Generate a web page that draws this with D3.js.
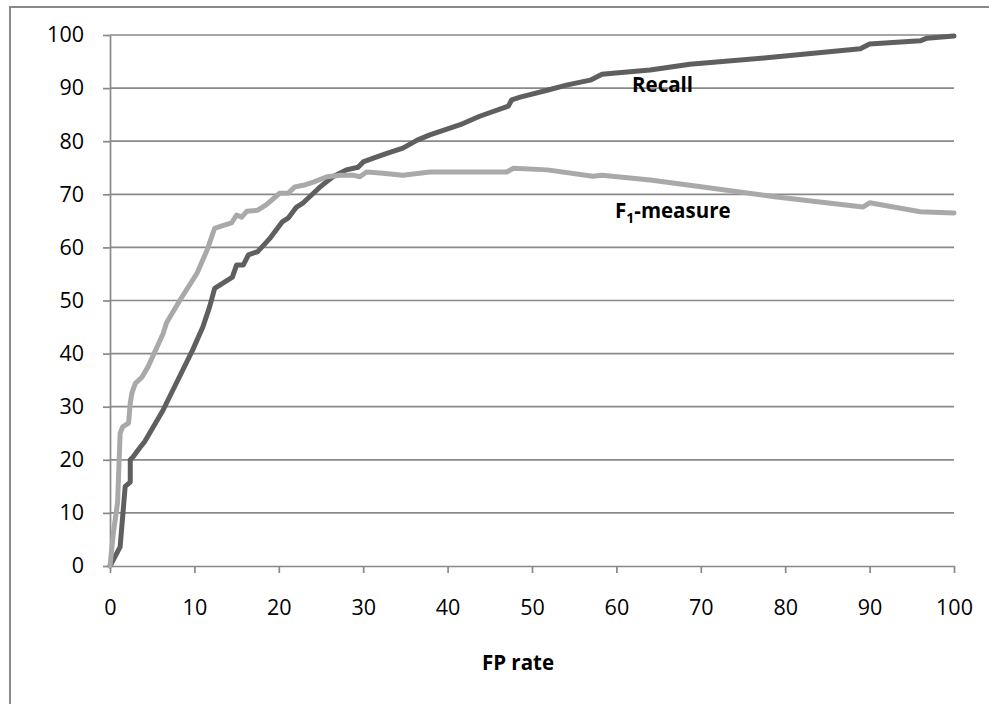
<!DOCTYPE html>
<html>
<head>
<meta charset="utf-8">
<script src="https://cdn.jsdelivr.net/npm/d3@7"></script>
<style>
  html, body { margin: 0; padding: 0; background: #fff; }
  svg { display: block; }
  text { font-family: "Open Sans", Lato, sans-serif; fill: #000; }
</style>
</head>
<body>
<svg id="chart" width="989" height="704"></svg>
<script>
// Recall curve: FP rate (%) and recall (%)
const recallFp = [0,1.2,1.8,2.4,2.4,2.7,3.6,4.1,6.3,6.7,9.8,11.0,11.8,12.4,14.5,15,15.8,16.4,17.5,19,20.4,21.1,22.1,22.9,24.1,24.9,26.4,28.0,29.4,30.0,31.2,32.8,34.7,36.4,37.9,41.5,43.8,47.2,47.6,48.6,51.8,54.2,56.9,58.3,59.6,64,68.7,77.8,88.9,90,96,96.8,100];
const recallVal = [0,3.6,15,15.8,20,20.5,22.4,23.4,29.4,30.7,40.7,45,48.8,52.3,54.4,56.7,56.7,58.6,59.2,61.8,64.8,65.5,67.6,68.4,70.2,71.4,73.3,74.6,75.1,76.1,76.8,77.7,78.7,80.2,81.2,83.1,84.7,86.6,87.8,88.3,89.6,90.6,91.5,92.6,92.8,93.4,94.5,95.7,97.4,98.3,98.9,99.4,99.8];

// F1-measure curve: FP rate (%) and F1 (%)
const f1Fp = [0,0.4,0.9,1.2,1.5,2.2,2.4,2.6,3.0,3.8,4.5,6.3,6.7,8.3,10.3,11.5,12.4,13,14.4,15,15.6,16.2,17.5,18.5,20.1,21.1,21.9,22.9,24.1,25.7,27.3,28.8,29.6,30.4,32,34.7,37.9,47,47.8,51.8,57.2,58.3,64,68.7,79,89.2,90,96,100];
const f1Val = [0,6.2,12,25,26.2,26.9,30.7,32.6,34.4,35.6,37.5,43.8,45.8,50.1,55.1,59.5,63.6,63.9,64.6,66.1,65.7,66.8,67,68,70.2,70.2,71.4,71.7,72.3,73.3,73.6,73.6,73.3,74.2,74,73.6,74.2,74.2,74.9,74.6,73.4,73.6,72.7,71.7,69.5,67.6,68.4,66.7,66.5];

const xTicks = [0,10,20,30,40,50,60,70,80,90,100];
const yTicks = [0,10,20,30,40,50,60,70,80,90,100];

const svg = d3.select("#chart");
const gridColor = "#898989";
const font = "'Open Sans', Lato, sans-serif";

// chart frame
svg.append("rect")
  .attr("x", 10).attr("y", 7)
  .attr("width", 1000).attr("height", 720)
  .attr("fill", "none").attr("stroke", gridColor).attr("stroke-width", 2);

const x = d3.scaleLinear().domain([0, 100]).range([110, 954]);
const y = d3.scaleLinear().domain([0, 100]).range([566, 35]);

// horizontal gridlines
svg.append("g").selectAll("line")
  .data(yTicks.filter(d => d > 0))
  .join("line")
  .attr("x1", x(0)).attr("x2", x(100))
  .attr("y1", d => y(d)).attr("y2", d => y(d))
  .attr("stroke", gridColor).attr("stroke-width", 1.7);

// y axis
const yAxis = svg.append("g")
  .attr("transform", `translate(${x(0)},0)`)
  .call(d3.axisLeft(y).tickValues(yTicks).tickSize(7).tickPadding(19).tickSizeOuter(0));
yAxis.select(".domain").attr("stroke", gridColor).attr("stroke-width", 1.7);
yAxis.selectAll(".tick line").attr("stroke", gridColor).attr("stroke-width", 1.7);
yAxis.selectAll(".tick text").attr("font-size", 21.5).attr("font-family", font).attr("fill", "#000");

// x axis
const xAxis = svg.append("g")
  .attr("transform", `translate(0,${y(0)})`)
  .call(d3.axisBottom(x).tickValues(xTicks).tickSize(7).tickPadding(27).tickSizeOuter(0));
xAxis.select(".domain").attr("stroke", gridColor).attr("stroke-width", 1.7);
xAxis.selectAll(".tick line").attr("stroke", gridColor).attr("stroke-width", 1.7);
xAxis.selectAll(".tick text").attr("font-size", 21.5).attr("font-family", font).attr("fill", "#000");

// series lines
const line = d3.line().x(d => x(d[0])).y(d => y(d[1]));

svg.append("path")
  .datum(recallFp.map((v, i) => [v, recallVal[i]]))
  .attr("d", line)
  .attr("fill", "none").attr("stroke", "#5f5f5f").attr("stroke-width", 5)
  .attr("stroke-linejoin", "round").attr("stroke-linecap", "round");

svg.append("path")
  .datum(f1Fp.map((v, i) => [v, f1Val[i]]))
  .attr("d", line)
  .attr("fill", "none").attr("stroke", "#a9a9a9").attr("stroke-width", 5)
  .attr("stroke-linejoin", "round").attr("stroke-linecap", "round");

// series labels
svg.append("text")
  .attr("x", 632).attr("y", 92)
  .attr("font-size", 20.5).attr("font-weight", "bold")
  .text("Recall");

const f1Label = svg.append("text")
  .attr("x", 615).attr("y", 218)
  .attr("font-size", 20.5).attr("font-weight", "bold");
f1Label.append("tspan").text("F");
f1Label.append("tspan").attr("font-size", 14).attr("dy", 5).text("1");
f1Label.append("tspan").attr("dy", -5).text("-measure");

// axis title
svg.append("text")
  .attr("x", 518).attr("y", 670)
  .attr("text-anchor", "middle")
  .attr("font-size", 20.5).attr("font-weight", "bold")
  .text("FP rate");
</script>
</body>
</html>
